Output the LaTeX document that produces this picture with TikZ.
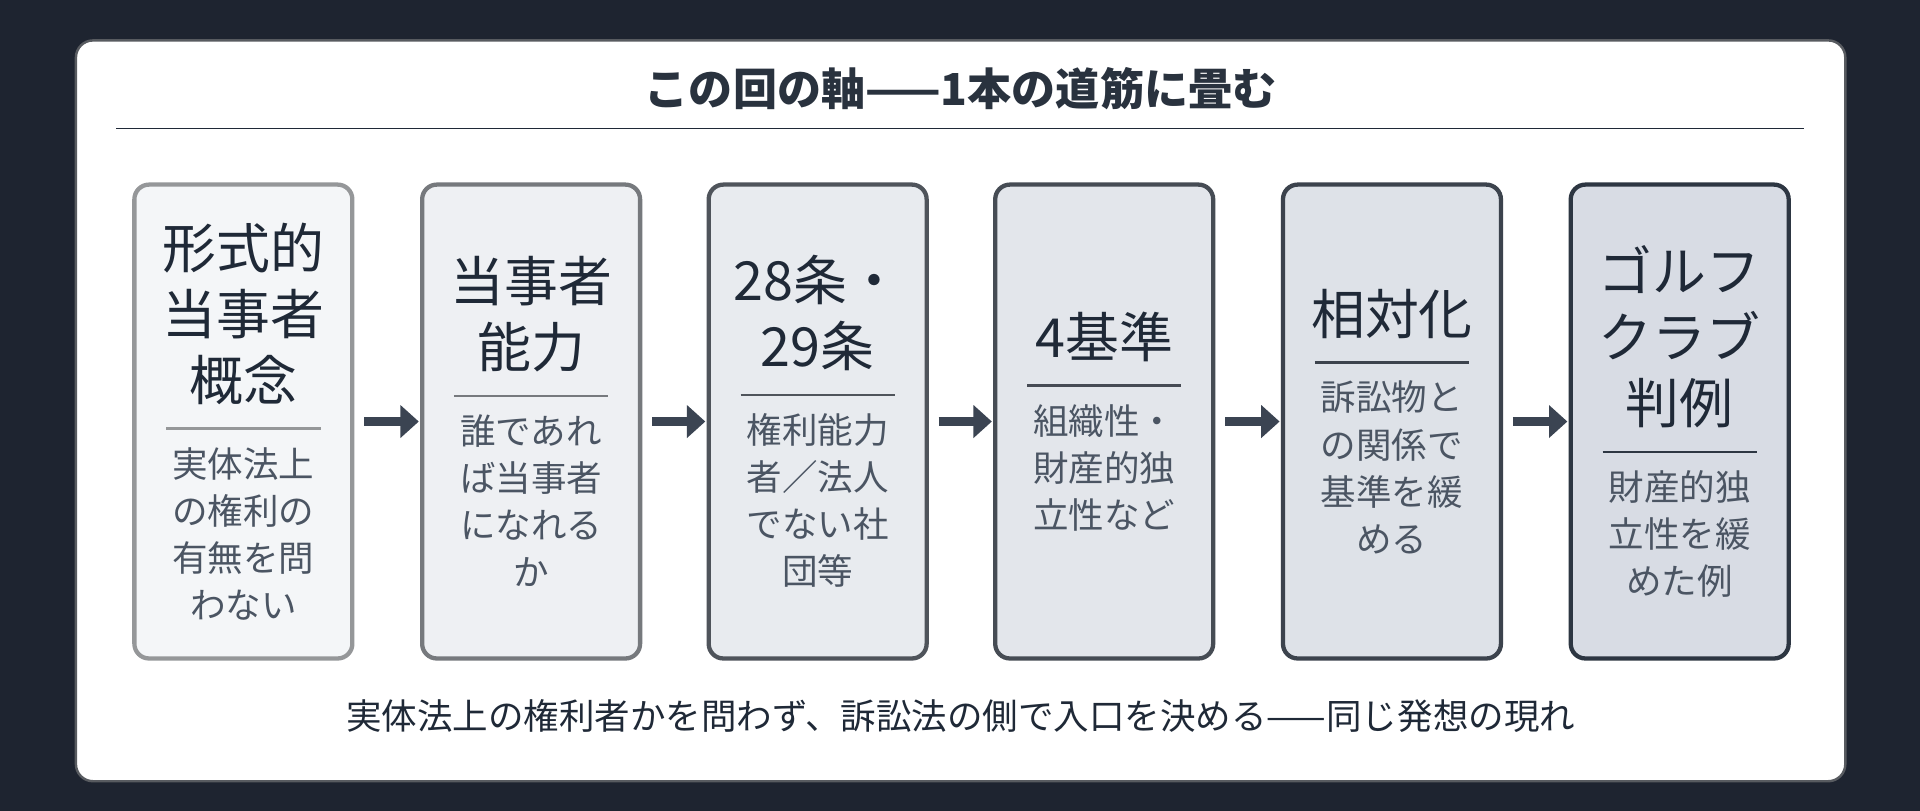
\documentclass[tikz,border=0pt]{standalone}
\usepackage{fontspec}
\setmainfont{Noto Sans CJK JP}
\usetikzlibrary{arrows.meta}
\definecolor{bg}{HTML}{1E2430}
\definecolor{ink}{HTML}{1F2937}
\definecolor{sub}{HTML}{4B5563}
\definecolor{arr}{HTML}{3B4452}
\tikzset{
 box/.style={draw=#1,line width=3.5pt,rounded corners=12pt,minimum width=178pt,minimum height=387pt,text width=170pt,align=center,inner sep=0pt,anchor=north west,text=ink},
 flow/.style={line width=8pt,draw=arr,-{Triangle[length=15pt,width=26pt]}}
}
\newcommand{\mn}[1]{{\fontsize{44}{54}\selectfont #1\par}}
\newcommand{\sbx}[1]{{\fontsize{29}{38.5}\selectfont\color{sub} #1\par}}
\newcommand{\sepc}[1]{\vspace{12pt}{\color{#1}\rule{126pt}{2pt}}\par\vspace{0pt}}
\begin{document}
\begin{tikzpicture}[x=1pt,y=-1pt]
\fill[bg] (0,0) rectangle (1568,662);
\useasboundingbox (0,0) rectangle (1568,662);
\fill[white,draw=gray!60!bg,line width=2pt,rounded corners=14pt] (62,33) rectangle (1507,638);
\node[font=\bfseries\fontsize{36}{40}\selectfont,text=ink!90!gray] (title) at (784.5,72) {この回の軸——1本の道筋に畳む};
\draw[ink,line width=1.5pt] (95,105) -- (1473,105);
\node[box=gray!75!ink!70,fill={rgb,255:red,244;green,246;blue,248}] (b1) at (108,149) {\mn{形式的\\当事者\\概念}\sepc{gray!75!ink!70}\sbx{実体法上\\の権利の\\有無を問\\わない}};
\node[box=gray!65!ink!85,fill={rgb,255:red,238;green,240;blue,243}] (b2) at (343,149) {\mn{当事者\\能力}\sepc{gray!65!ink!85}\sbx{誰であれ\\ば当事者\\になれる\\か}};
\node[box=gray!50!ink,fill={rgb,255:red,232;green,235;blue,239}] (b3) at (577,149) {\mn{28条・\\29条}\sepc{gray!50!ink}\sbx{権利能力\\者／法人\\でない社\\団等}};
\node[box=gray!40!ink,fill={rgb,255:red,227;green,230;blue,235}] (b4) at (811,149) {\mn{4基準}\sepc{gray!40!ink}\sbx{組織性・\\財産的独\\立性など}};
\node[box=gray!30!ink,fill={rgb,255:red,222;green,226;blue,232}] (b5) at (1046,149) {\mn{相対化}\sepc{gray!30!ink}\sbx{訴訟物と\\の関係で\\基準を緩\\める}};
\node[box=gray!15!ink,fill={rgb,255:red,216;green,220;blue,228}] (b6) at (1281,149) {\mn{ゴルフ\\クラブ\\判例}\sepc{gray!15!ink}\sbx{財産的独\\立性を緩\\めた例}};
\foreach \a/\b in {b1/b2,b2/b3,b3/b4,b4/b5,b5/b6}
 \draw[flow] ([xshift=8pt]\a.east) -- ([xshift=-1pt]\b.west);
\node[font=\fontsize{29}{34}\selectfont,text=ink] (foot) at (784.5,585) {実体法上の権利者かを問わず、訴訟法の側で入口を決める——同じ発想の現れ};
\end{tikzpicture}
\end{document}
